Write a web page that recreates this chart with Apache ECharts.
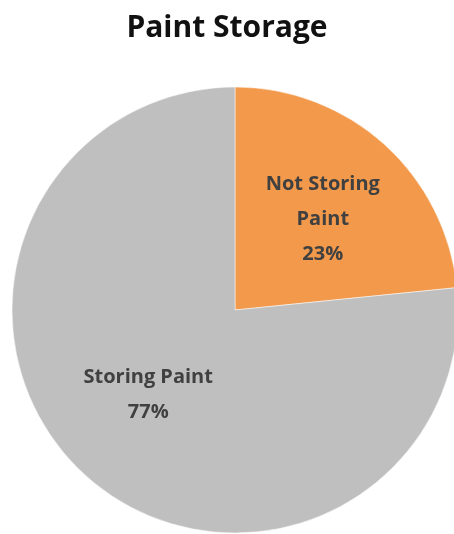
<!DOCTYPE html>
<html><head><meta charset="utf-8">
<script src="https://cdn.jsdelivr.net/npm/echarts@6/dist/echarts.min.js"></script>
<style>html,body{margin:0;padding:0;background:#fff}#c{width:454px;height:534px}</style>
</head><body><div id="c"></div>
<script>
var categories = ['Not Storing\nPaint', 'Storing Paint'];
var values = [23.4, 76.6];
var colors = ['#F2994B', '#BFBFBF'];

var chart = echarts.init(document.getElementById('c'), null, {renderer: 'canvas'});
chart.setOption({
  animation: false,
  title: {
    text: 'Paint Storage', left: 'center', top: 8,
    textStyle: {fontFamily: 'Open Sans', fontWeight: 'bold', fontSize: 30, color: '#111'}
  },
  series: [{
    type: 'pie',
    center: [235, 310],
    radius: [0, 223],
    startAngle: 90,
    clockwise: true,
    data: categories.map(function (c, i) { return {name: c, value: values[i], itemStyle: {color: colors[i]}}; }),
    itemStyle: {borderColor: '#fff', borderWidth: 0.5},
    label: {
      position: 'inside',
      formatter: function (p) { return p.name + '\n' + Math.round(p.percent) + '%'; },
      fontFamily: 'Open Sans', fontWeight: 'bold', fontSize: 20, lineHeight: 35, color: '#404040'
    },
    labelLayout: function (p) {
      return p.dataIndex === 0 ? {dx: 11, dy: -6} : {dx: -10, dy: 0};
    },
    labelLine: {show: false},
    emphasis: {disabled: true}
  }]
});
</script></body></html>
